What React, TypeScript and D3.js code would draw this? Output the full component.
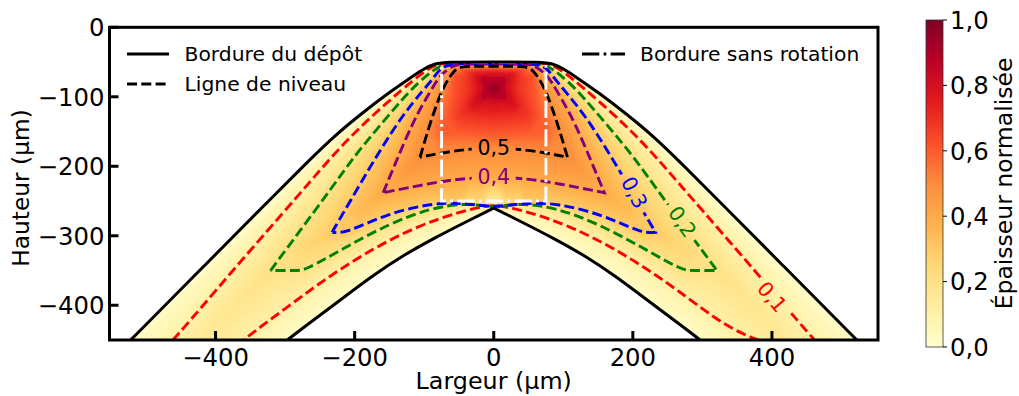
import React, { useMemo } from "react";
import * as d3 from "d3";

type P = [number, number];

// Deposit borders (left half, from the centre outward), micrometres
const outerBorder: P[] = [[0, -50], [-70, -50], [-85, -52.5], [-100, -59.5], [-116, -70], [-150, -93.5], [-190, -124], [-230, -157], [-270, -196], [-310, -236], [-415, -342], [-522, -450], [-552, -480]];
const innerBorder: P[] = [[0, -260], [-40, -280], [-85, -303], [-130, -328], [-175, -358], [-220, -392], [-260, -422], [-297, -450], [-335, -480]];

// Contour levels: upper and lower branches of the left half
const upper01: P[] = [[0, -51], [-65, -51], [-82, -53], [-101, -64], [-130, -88], [-177, -129], [-225, -176.5], [-274, -234], [-379, -354], [-460, -450], [-490, -480]];
const lower01: P[] = [[0, -256], [-15, -258], [-48, -265], [-110, -286], [-173, -318], [-235, -357], [-292, -399], [-361, -450], [-395, -480]];
const upper02: P[] = [[0, -51.5], [-65, -51.5], [-79.5, -56.7], [-96, -68.6], [-120, -90], [-163, -140.6], [-201, -186], [-235, -234], [-278, -292], [-321, -350]];
const lower02: P[] = [[0, -259], [-5, -258], [-43, -253], [-91, -260.4], [-149, -282], [-216, -318], [-271, -350], [-285, -350], [-321, -350]];
const upper03: P[] = [[0, -52], [-62, -52], [-77, -59], [-85, -71], [-101, -90], [-130, -125], [-163, -176], [-197, -234], [-232.5, -295]];
const lower03: P[] = [[0, -260], [-43, -252.4], [-91, -253], [-158, -270], [-213, -296.5], [-232.5, -295]];
const upper04: P[] = [[0, -53], [-50, -53], [-58, -55], [-77, -68], [-91, -92], [-115, -133], [-141.5, -196], [-159, -238]];
const lower04: P[] = [[0, -216], [-38, -217], [-77, -222], [-124, -231], [-159, -238]];
const upper05: P[] = [[0, -56], [-45, -56], [-55, -60], [-63, -71], [-74, -88], [-91, -136], [-106, -187]];
const lower05: P[] = [[0, -174], [-37, -175], [-77, -181], [-106, -187]];

// Extra thickness readings, only used for shading the field
const inner06: P[] = [[0, -57.5], [-48, -58], [-60, -66], [-62, -100], [-72, -150], [-36, -153], [0, -155]];
const inner07: P[] = [[0, -60], [-30, -62], [-36, -62], [-34, -90], [-46, -124], [-22, -128], [0, -130]];
const inner08: P[] = [[0, -67], [-16, -69], [-26, -66], [-20, -87], [-28, -110], [-10, -106], [0, -110]];
const inner09: P[] = [[0, -77], [-5, -81], [-14, -73], [-9, -87], [-14, -101], [-5, -96], [0, -97]];
const peak: P = [0, -88];
const ridge: [number, number, number][] = [[-370, -400, 0.18], [-415, -450, 0.16], [-445, -480, 0.15], [-277, -322, 0.25], [-195, -266, 0.35], [-132, -212, 0.45]];

const contourLevels = [0.1, 0.2, 0.3, 0.4, 0.5];
const contourColors = ["#ff0000", "#008000", "#0000ff", "#800080", "#000000"];
const contourBranches: [P[], P[]][] = [[upper01, lower01], [upper02, lower02], [upper03, lower03], [upper04, lower04], [upper05, lower05]];
const contourLabels = ["0,1", "0,2", "0,3", "0,4", "0,5"];
const labelSpots: P[] = [[400, -388], [271, -280], [202, -238], [0, -215], [0, -173]];
const labelAngles = [50, 55, 62, 0, 0];

const rectHalfWidth = 75;
const rectTop = -50;
const rectBottom = -250;

const xTicks = [-400, -200, 0, 200, 400];
const yTicks = [0, -100, -200, -300, -400];
const barTicks = [0, 0.2, 0.4, 0.6, 0.8, 1];
const ylOrRd = ["#ffffcc", "#ffeda0", "#fed976", "#feb24c", "#fd8d3c", "#fc4e2a", "#e31a1c", "#bd0026", "#800026"];

const W = 1019, H = 396;
const L = 109.5, R = 878, T = 27.3, B = 340;
const BL = 926, BR = 943, BT = 20, BB = 347;
const FONT = "'DejaVu Sans', sans-serif";

const x = d3.scaleLinear().domain([-552.5, 552.5]).range([L, R]);
const y = d3.scaleLinear().domain([0, -450]).range([T, B]);
const bar = d3.scaleLinear().domain([0, 1]).range([BB, BT]);
const color = d3.scaleLinear<string>().domain(ylOrRd.map((_, i) => i / 8)).range(ylOrRd).interpolate(d3.interpolateRgb);

const fmt = (v: number) => (v < 0 ? "\u2212" + -v : String(v));
const mirror = (a: P[]): P[] => a.map(([px, py]) => [-px, py] as P);
const lin = d3.line<P>().x((d) => x(d[0])).y((d) => y(d[1]));
const smooth = d3.line<P>().x((d) => x(d[0])).y((d) => y(d[1])).curve(d3.curveBasis);

function loopOf(up: P[], low: P[]): P[] {
  const tip = up[up.length - 1];
  const mTip: P = [-tip[0], tip[1]];
  return [
    tip, tip,
    ...up.slice().reverse(),
    ...mirror(up).slice(1),
    mTip, mTip,
    ...mirror(low).slice().reverse().slice(1),
    ...low.slice(1),
    tip, tip,
  ];
}

function resample(a: P[], step: number): P[] {
  const out: P[] = [];
  for (let i = 0; i < a.length - 1; i++) {
    const [x0, y0] = a[i], [x1, y1] = a[i + 1];
    const n = Math.max(1, Math.round(Math.hypot(x1 - x0, y1 - y0) / step));
    for (let k = 0; k < n; k++) out.push([x0 + ((x1 - x0) * k) / n, y0 + ((y1 - y0) * k) / n]);
  }
  out.push(a[a.length - 1]);
  return out;
}

function renderField(): string {
  const pts: number[][] = [];
  const add = (a: P[], v: number) => {
    resample(a, 10).forEach(([px, py]) => {
      pts.push([x(px), y(py), v]);
      if (px !== 0) pts.push([x(-px), y(py), v]);
    });
  };
  add(outerBorder, 0.02);
  add(innerBorder, 0.02);
  contourBranches.forEach(([u, l], i) => { add(u, contourLevels[i]); add(l, contourLevels[i]); });
  add(inner06, 0.6); add(inner07, 0.7); add(inner08, 0.8); add(inner09, 0.9);
  pts.push([x(peak[0]), y(peak[1]), 1]);
  ridge.forEach(([px, py, v]) => { pts.push([x(px), y(py), v]); pts.push([x(-px), y(py), v]); });

  const del = d3.Delaunay.from(pts, (p) => p[0], (p) => p[1]);
  const cw = W, ch = H;
  const canvas = document.createElement("canvas");
  canvas.width = cw; canvas.height = ch;
  const ctx = canvas.getContext("2d")!;
  const img = ctx.createImageData(cw, ch);
  const lut = d3.range(1025).map((i) => d3.rgb(color(i / 1024)));
  const tri = del.triangles;
  for (let t = 0; t < tri.length; t += 3) {
    const a = pts[tri[t]], b = pts[tri[t + 1]], c = pts[tri[t + 2]];
    const d = (b[1] - c[1]) * (a[0] - c[0]) + (c[0] - b[0]) * (a[1] - c[1]);
    if (Math.abs(d) < 1e-9) continue;
    const x0 = Math.max(0, Math.floor(Math.min(a[0], b[0], c[0])));
    const x1 = Math.min(cw - 1, Math.ceil(Math.max(a[0], b[0], c[0])));
    const y0 = Math.max(0, Math.floor(Math.min(a[1], b[1], c[1])));
    const y1 = Math.min(ch - 1, Math.ceil(Math.max(a[1], b[1], c[1])));
    for (let py = y0; py <= y1; py++) for (let px = x0; px <= x1; px++) {
      const sx = px + 0.5, sy = py + 0.5;
      const u = ((b[1] - c[1]) * (sx - c[0]) + (c[0] - b[0]) * (sy - c[1])) / d;
      const v = ((c[1] - a[1]) * (sx - c[0]) + (a[0] - c[0]) * (sy - c[1])) / d;
      const w = 1 - u - v;
      if (u < -1e-6 || v < -1e-6 || w < -1e-6) continue;
      const val = u * a[2] + v * b[2] + w * c[2];
      const rgb = lut[Math.round(Math.min(1, Math.max(0, val)) * 1024)];
      const o = (py * cw + px) * 4;
      img.data[o] = rgb.r; img.data[o + 1] = rgb.g; img.data[o + 2] = rgb.b; img.data[o + 3] = 255;
    }
  }
  ctx.putImageData(img, 0, 0);
  return canvas.toDataURL();
}

export default function App() {
  const field = useMemo(renderField, []);
  const outerFull: P[] = [...outerBorder.slice().reverse(), ...mirror(outerBorder).slice(1)];
  const innerLeft = innerBorder.slice().reverse();
  const innerRight = mirror(innerBorder);
  const clipD = (smooth(outerFull) ?? "") + " L" + (smooth(innerRight.slice().reverse()) ?? "").slice(1) + " L" + (smooth(innerBorder) ?? "").slice(1) + "Z";
  const rect: P[] = [[-rectHalfWidth, rectTop], [rectHalfWidth, rectTop], [rectHalfWidth, rectBottom], [-rectHalfWidth, rectBottom], [-rectHalfWidth, rectTop]];
  const lw = 3;
  return (
    <svg width={W} height={H} viewBox={`0 0 ${W} ${H}`} style={{ position: "absolute", left: 0, top: 0, display: "block", background: "#fff" }} fontFamily={FONT}>
      <defs>
        <clipPath id="frame"><rect x={L} y={T} width={R - L} height={B - T} /></clipPath>
        <clipPath id="deposit"><path d={clipD} /></clipPath>
        <filter id="soft" x="0" y="0" width="100%" height="100%"><feGaussianBlur stdDeviation={2.2} /></filter>
        <linearGradient id="bar" x1="0" y1="1" x2="0" y2="0">
          {ylOrRd.map((c, i) => <stop key={i} offset={i / 8} stopColor={c} />)}
        </linearGradient>
        {contourLevels.map((lv, i) => {
          const [lx, ly] = labelSpots[i];
          return (
            <mask key={lv} id={`gap${i}`} maskUnits="userSpaceOnUse" x={0} y={0} width={W} height={H}>
              <rect x={0} y={0} width={W} height={H} fill="#fff" />
              <rect x={-22} y={-13} width={44} height={26} fill="#000" transform={`translate(${x(lx)},${y(ly)}) rotate(${labelAngles[i]})`} />
            </mask>
          );
        })}
      </defs>

      <g clipPath="url(#frame)">
        <g clipPath="url(#deposit)">
          <image href={field} x={0} y={0} width={W} height={H} filter="url(#soft)" />
        </g>
        {contourBranches.map(([u, l], i) => (
          <g key={i} mask={`url(#gap${i})`}>
            <path d={smooth(loopOf(u, l)) ?? ""} fill="none" stroke={contourColors[i]} strokeWidth={2.9} strokeDasharray="10 4.3" />
          </g>
        ))}
        <path d={lin(rect) ?? ""} fill="none" stroke="#fff" strokeWidth={2.9} strokeDasharray="17.3 4.3 2.7 4.3" />
        <path d={smooth(outerFull) ?? ""} fill="none" stroke="#000" strokeWidth={lw} />
        <path d={smooth(innerLeft) ?? ""} fill="none" stroke="#000" strokeWidth={lw} />
        <path d={smooth(innerRight) ?? ""} fill="none" stroke="#000" strokeWidth={lw} />
      </g>

      {contourLabels.map((s, i) => (
        <text key={s} transform={`translate(${x(labelSpots[i][0])},${y(labelSpots[i][1])}) rotate(${labelAngles[i]})`} textAnchor="middle" dominantBaseline="central" fontSize={20.5} fill={contourColors[i]}>{s}</text>
      ))}

      {/* legend */}
      <line x1={127} x2={169} y1={54} y2={54} stroke="#000" strokeWidth={lw} />
      <text x={184.5} y={61} fontSize={20.3} fill="#000">Bordure du dépôt</text>
      <line x1={127} x2={169} y1={84} y2={84} stroke="#000" strokeWidth={lw} strokeDasharray="10 4.3" />
      <text x={184.5} y={91} fontSize={20.3} fill="#000">Ligne de niveau</text>
      <line x1={582} x2={625} y1={54} y2={54} stroke="#000" strokeWidth={lw} strokeDasharray="17.3 4.3 2.7 4.3" />
      <text x={640} y={61} fontSize={20.3} fill="#000">Bordure sans rotation</text>

      {/* frame and axes */}
      <rect x={L} y={T} width={R - L} height={B - T} fill="none" stroke="#000" strokeWidth={lw} />
      {xTicks.map((t) => (
        <g key={t}>
          <line x1={x(t)} x2={x(t)} y1={B} y2={B - 9} stroke="#000" strokeWidth={lw} />
          <text x={x(t)} y={B + 26} textAnchor="middle" fontSize={24.3} fill="#000">{fmt(t)}</text>
        </g>
      ))}
      {yTicks.map((t) => (
        <g key={t}>
          <line x1={L} x2={L + 9} y1={y(t)} y2={y(t)} stroke="#000" strokeWidth={lw} />
          <text x={L - 5} y={y(t)} dy="0.36em" textAnchor="end" fontSize={24.3} fill="#000">{fmt(t)}</text>
        </g>
      ))}
      <text x={(L + R) / 2} y={389} textAnchor="middle" fontSize={23.8} fill="#000">Largeur (µm)</text>
      <text transform={`translate(29,188) rotate(-90)`} textAnchor="middle" fontSize={23.3} fill="#000">Hauteur (µm)</text>

      {/* colour bar */}
      <rect x={BL} y={BT} width={BR - BL} height={BB - BT} fill="url(#bar)" stroke="#333" strokeWidth={0.8} />
      {barTicks.map((t) => (
        <g key={t}>
          <line x1={BR} x2={BR + 4} y1={bar(t)} y2={bar(t)} stroke="#000" strokeWidth={1} />
          <text x={950} y={bar(t)} dy="0.36em" fontSize={24.3} fill="#000">{t.toFixed(1).replace(".", ",")}</text>
        </g>
      ))}
      <text transform={`translate(1012,183.5) rotate(-90)`} textAnchor="middle" fontSize={23.5} fill="#000">Épaisseur normalisée</text>
    </svg>
  );
}
